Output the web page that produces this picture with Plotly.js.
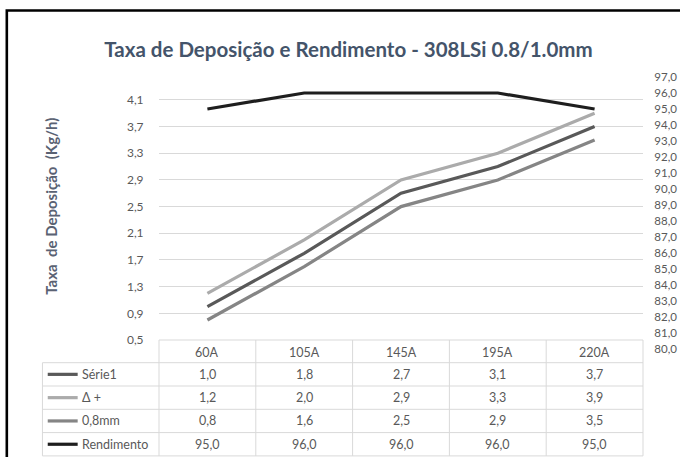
<!DOCTYPE html>
<html><head><meta charset="utf-8">
<script src="https://cdn.plot.ly/plotly-3.0.1.min.js"></script>
<style>html,body{margin:0;padding:0;background:#fff;}#chart{width:680px;height:457px;}</style>
</head><body><div id="chart"></div>
<script>
// ---- data ----
const categories = ['60A', '105A', '145A', '195A', '220A'];
const serie1 = [1.0, 1.8, 2.7, 3.1, 3.7];
const deltaPlus = [1.2, 2.0, 2.9, 3.3, 3.9];
const mm08 = [0.8, 1.6, 2.5, 2.9, 3.5];
const rendimento = [95.0, 96.0, 96.0, 96.0, 95.0];
const seriesNames = ['Série1', 'Δ +', '0,8mm', 'Rendimento'];
const chartTitle = 'Taxa de Deposição e Rendimento - 308LSi 0.8/1.0mm';
const yTitle = 'Taxa\u00a0 de Deposição\u00a0 (Kg/h)';

// ---- geometry helpers (pixels -> paper) ----
const W = 680, H = 457, PL = 158.5, PR = 643.5;
const px = v => (v - PL) / (PR - PL);
const py = v => (H - v) / H;

const FONT = 'Lato, "Open Sans", sans-serif';
const TXT = '#595959';
const GRID = '#D9D9D9';
const seriesData = [serie1, deltaPlus, mm08, rendimento];
const seriesColors = ['#595959', '#ABABAB', '#858585', '#1E1E1E'];

const traces = seriesData.map((vals, i) => ({
  type: 'scatter', mode: 'lines', x: categories, y: vals, name: seriesNames[i],
  yaxis: i === 3 ? 'y2' : 'y',
  line: {color: seriesColors[i], width: 3.2},
  hoverinfo: 'skip', showlegend: false
}));

// ---- data table ----
const shapes = [];
const annotations = [];
const tableLeft = 41.7, colW = (PR - PL) / categories.length;
const headTop = 340, headBot = 362.7, rowH = 23.3;
const rowYs = [0, 1, 2, 3, 4].map(k => headBot + k * rowH);
const line = (x0, y0, x1, y1, color, width) => shapes.push({
  type: 'line', xref: 'paper', yref: 'paper', x0: px(x0), y0: py(y0), x1: px(x1), y1: py(y1),
  line: {color: color, width: width}
});
line(PL, headTop, PR, headTop, GRID, 1);
rowYs.forEach(y => line(tableLeft, y, PR, y, GRID, 1));
line(tableLeft, headBot, tableLeft, rowYs[4], GRID, 1);
for (let c = 0; c <= categories.length; c++) line(PL + c * colW, headTop, PL + c * colW, rowYs[4], GRID, 1);

const fmt = v => v.toFixed(1).replace('.', ',');
const TS = 12.5;
categories.forEach((c, i) => annotations.push({
  xref: 'paper', yref: 'paper', x: px(PL + (i + 0.5) * colW), y: py((headTop + headBot) / 2 + 1),
  text: c, showarrow: false, xanchor: 'center', yanchor: 'middle', font: {family: FONT, size: TS, color: TXT}
}));
seriesData.forEach((vals, r) => {
  const yc = rowYs[r] + rowH / 2;
  line(47, yc, 77, yc, seriesColors[r], 3.2);
  annotations.push({
    xref: 'paper', yref: 'paper', x: px(79), y: py(yc), text: seriesNames[r], showarrow: false,
    xanchor: 'left', yanchor: 'middle', font: {family: FONT, size: TS, color: TXT}
  });
  vals.forEach((v, i) => annotations.push({
    xref: 'paper', yref: 'paper', x: px(PL + (i + 0.5) * colW), y: py(yc), text: fmt(v), showarrow: false,
    xanchor: 'center', yanchor: 'middle', font: {family: FONT, size: TS, color: TXT}
  }));
});

// y-axis title
annotations.push({
  xref: 'paper', yref: 'paper', x: px(50), y: py(206), text: '<b>' + yTitle + '</b>', textangle: -90,
  showarrow: false, xanchor: 'center', yanchor: 'middle', font: {family: FONT, size: 15, color: '#5A6273'}
});

// outer frame
shapes.push({type: 'rect', xref: 'paper', yref: 'paper', x0: px(6), y0: py(10.5), x1: px(700), y1: py(480),
  line: {color: '#000000', width: 2.6}});

const layout = {
  width: W, height: H,
  margin: {l: PL, r: W - PR, t: 0, b: 0, autoexpand: false},
  paper_bgcolor: '#ffffff', plot_bgcolor: 'rgba(0,0,0,0)',
  separators: ',.',
  font: {family: FONT, color: TXT, size: 12},
  title: {text: '<b>' + chartTitle + '</b>', x: 348.5 / W, xanchor: 'center', y: 1 - 50 / H, yanchor: 'middle',
    font: {family: FONT, size: 20.5, color: '#44546A'}},
  xaxis: {type: 'category', range: [-0.5, 4.5], showticklabels: false, showgrid: false, zeroline: false,
    showline: false, ticks: '', anchor: 'y', fixedrange: true},
  yaxis: {domain: [py(340), py(83.2)], range: [0.5, 4.35], tick0: 0.5, dtick: 0.4, tickformat: '.1f',
    showgrid: true, gridcolor: GRID, gridwidth: 1, zeroline: false, showline: false,
    ticks: 'outside', ticklen: 12, tickcolor: 'rgba(0,0,0,0)', tickfont: {family: FONT, size: 12, color: TXT}, anchor: 'x'},
  yaxis2: {domain: [py(349), py(77)], range: [80, 97], dtick: 1, tickformat: '.1f', side: 'right', anchor: 'x',
    showgrid: false, zeroline: false, showline: false,
    ticks: 'outside', ticklen: 8, tickcolor: 'rgba(0,0,0,0)', tickfont: {family: FONT, size: 11.5, color: TXT}},
  shapes: shapes,
  annotations: annotations
};

Plotly.newPlot('chart', traces, layout, {displayModeBar: false, staticPlot: true});
</script></body></html>
